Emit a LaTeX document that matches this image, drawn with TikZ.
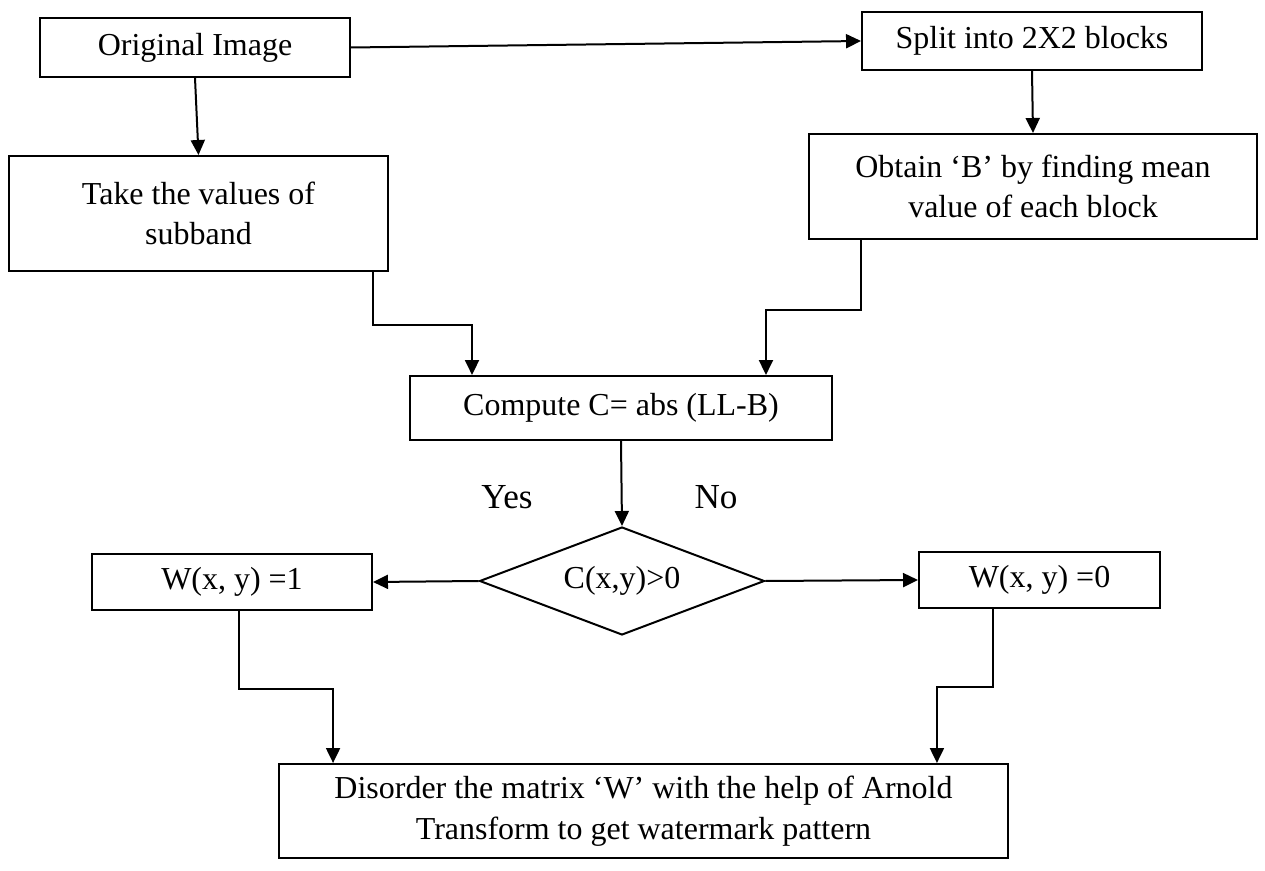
\documentclass[tikz,border=0pt]{standalone}
\usepackage{fontspec}
\setmainfont{Liberation Serif}
\usetikzlibrary{shapes.geometric,arrows.meta}

\begin{document}
\begin{tikzpicture}[x=0.02cm,y=-0.02cm,->,>={Triangle[length=0.3cm,width=0.28cm]},line width=0.04cm,box node/.style={rectangle,draw,inner sep=2pt,align=center,font=\fontsize{18.2}{23}\selectfont},test node/.style={diamond,draw,aspect=2.64,inner sep=0pt,font=\fontsize{18.2}{23}\selectfont},answer node/.style={font=\fontsize{20}{24}\selectfont}]

            \useasboundingbox (0,0) rectangle (1265,871);

            \node[box node, minimum width=6.2cm, minimum height=1.18cm] (1) at (195,47.5) {Original Image};
            \node[box node, minimum width=6.8cm, minimum height=1.16cm] (2) at (1032,41) {Split into 2X2 blocks};
            \node[box node, minimum width=7.58cm, minimum height=2.3cm] (3) at (198.5,213.5) {Take the values of\\subband};
            \node[box node, minimum width=8.96cm, minimum height=2.1cm] (4) at (1033,186.5) {Obtain ‘B’ by finding mean\\value of each block};
            \node[box node, minimum width=8.44cm, minimum height=1.28cm] (5) at (621,408) {Compute C= abs (LL-B)};
            \node[test node, minimum width=5.7cm, minimum height=2.16cm] (6) at (622,581) {C(x,y)>0};
            \node[box node, minimum width=5.6cm, minimum height=1.12cm] (7) at (232,582) {W(x, y) =1};
            \node[box node, minimum width=4.82cm, minimum height=1.12cm] (8) at (1039.5,580) {W(x, y) =0};
            \node[box node, minimum width=14.58cm, minimum height=1.88cm] (9) at (643.5,811) {Disorder the matrix ‘W’ with the help of Arnold\\Transform to get watermark pattern};
            \node[answer node] (10) at (507,497) {Yes};
            \node[answer node] (11) at (716,497) {No};

            \draw[->] (1.east) to (2.west);
            \draw[->] (1.south) to (3.north);
            \draw[->] (2.south) to (4.north);
            \draw[->] ([xshift=-0.32cm]3.south east) -- ++(0,53) -| ([xshift=1.26cm]5.north west);
            \draw[->] ([xshift=1.06cm]4.south west) -- ++(0,70) -| ([xshift=-1.34cm]5.north east);
            \draw[->] (5.south) to (6.north);
            \draw[->] (6.west) to (7.east);
            \draw[->] (6.east) to (8.west);
            \draw[->] ([xshift=2.96cm]7.south west) -- ++(0,78) -| ([xshift=1.1cm]9.north west);
            \draw[->] ([xshift=1.5cm]8.south west) -- ++(0,78) -| ([xshift=-1.44cm]9.north east);

            ;
        \end{tikzpicture}
\end{document}
